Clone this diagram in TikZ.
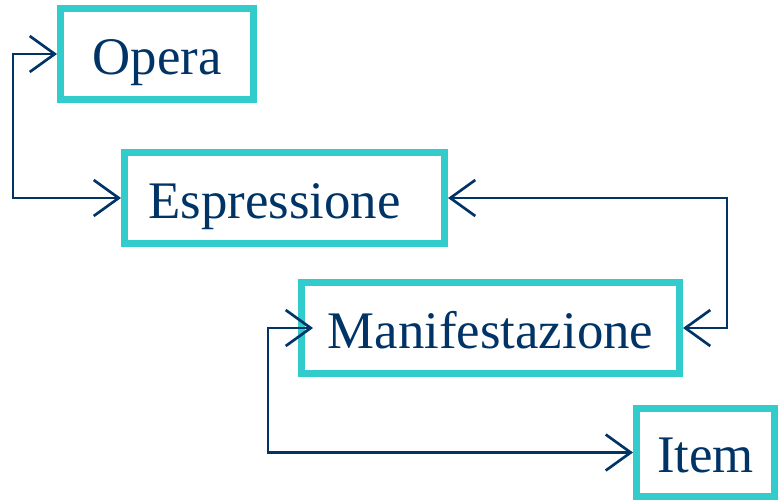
\documentclass[tikz,border=0pt]{standalone}
\usepackage{fontspec}
\setmainfont{Liberation Serif}
\usetikzlibrary{arrows.meta}
\definecolor{frbrnavy}{RGB}{0,51,102}
\definecolor{frbrcyan}{RGB}{51,204,204}
\tikzset{every picture/.style={line width=0.75pt}}
\tikzset{
  entity/.style={draw=frbrcyan, line width=5.25pt, text=frbrnavy, inner sep=0pt,
    font=\fontsize{39.6}{44}\selectfont, text height=37.5pt, text depth=7.5pt,
    minimum height=68.25pt},
  link/.style={draw=frbrnavy, line width=2pt,
    arrows={Straight Barb[length=18.75pt,width=27pt]-Straight Barb[length=18.75pt,width=27pt]}}
}
\begin{document}
\begin{tikzpicture}[x=0.75pt,y=0.75pt,yscale=-1,xscale=1]
\useasboundingbox (0,0) rectangle (778,501);
%Shape: Rectangle [id:opera]
\node [entity, minimum width=144.75pt] (Opera) at (157,54) {Opera};
%Shape: Rectangle [id:espressione]
\node [entity, minimum width=240pt] (Espressione) at (284.5,198) {Espressione\hspace*{15pt}};
%Shape: Rectangle [id:manifestazione]
\node [entity, minimum width=283.5pt] (Manifestazione) at (490.5,328) {Manifestazione};
%Shape: Rectangle [id:item]
\node [entity, minimum width=103.5pt, minimum height=66pt] (Item) at (705.5,452.5) {Item};

%Straight Lines [id:opera-espressione]
\draw [link] (Opera.west) -- ++(-44,0) |- (Espressione.west) ;
%Straight Lines [id:espressione-manifestazione]
\draw [link] (Espressione.east) -- ++(279,0) |- (Manifestazione.east) ;
%Straight Lines [id:manifestazione-item]
\draw [link, shorten <=-15*0.75pt] (Manifestazione.west) -- ++(-30,0) |- (Item.west) ;
\end{tikzpicture}
\end{document}
